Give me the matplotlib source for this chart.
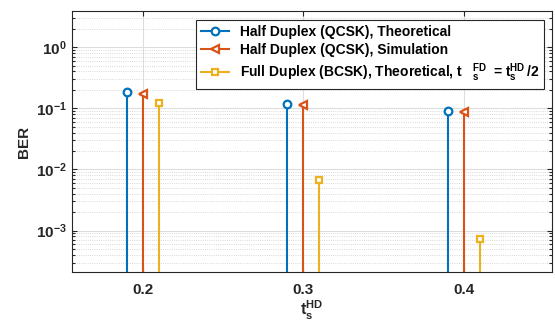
import numpy as np
import matplotlib
matplotlib.use("Agg")
import matplotlib.pyplot as plt
from matplotlib.ticker import LogLocator, NullFormatter, FixedLocator
from matplotlib.legend_handler import HandlerLine2D
from matplotlib.lines import Line2D

plt.rcParams['font.family'] = ['Liberation Sans', 'DejaVu Sans']
plt.rcParams['mathtext.fontset'] = 'custom'
plt.rcParams['mathtext.rm'] = 'Liberation Sans:bold'
plt.rcParams['mathtext.it'] = 'Liberation Sans:bold'
plt.rcParams['mathtext.bf'] = 'Liberation Sans:bold'

# data
t_hd = [0.2, 0.3, 0.4]
ber_hd_theory = [0.188, 0.118, 0.089]
ber_hd_sim = [0.174, 0.115, 0.086]
ber_fd_theory = [0.122, 0.0066, 0.00074]

labels = ["Half Duplex (QCSK), Theoretical",
          "Half Duplex (QCSK), Simulation",
          r"Full Duplex (BCSK), Theoretical, t  $\mathbf{\;{}_s^{FD}\;}$ = t$\mathbf{{}_s^{HD}\,}$/2"]


# MATLAB style legend: marker at the end of the line
class EndMarker(HandlerLine2D):
    def get_xdata(self, legend, xdescent, ydescent, width, height, fontsize):
        xdata = np.array([-xdescent, -xdescent + width])
        return xdata, np.array([-xdescent + width - 2])


fig = plt.figure(figsize=(5.55, 3.22), dpi=100)
ax = fig.add_axes([0.1297, 0.1553, 0.8649, 0.8105])

ylo, yhi = 2.1e-4, 3.9
offsets = [-0.01, 0.0, 0.01]
series = [ber_hd_theory, ber_hd_sim, ber_fd_theory]
colors = ['#0072BD', '#D95319', '#EDB120']
markers = ['o', '<', 's']
sizes = [5.5, 6, 5]

handles = []
for off, vals, c, m, ms, lab in zip(offsets, series, colors, markers, sizes, labels):
    x = np.array(t_hd) + off
    ax.vlines(x, ylo, vals, color=c, lw=1.5, zorder=3)
    ax.plot(x, vals, ls='none', marker=m, ms=ms, mfc='white', mec=c, mew=1.6, zorder=4)
    h, = ax.plot([], [], color=c, lw=1.5, marker=m, ms=ms, mfc='white', mec=c, mew=1.6, label=lab)
    handles.append(h)

ax.set_yscale('log')
ax.set_ylim(ylo, yhi)
ax.set_xlim(0.156, 0.455)
ax.xaxis.set_major_locator(FixedLocator(t_hd))
ax.set_xticklabels(['0.2', '0.3', '0.4'])
ax.yaxis.set_major_locator(FixedLocator([1e-3, 1e-2, 1e-1, 1e0]))
ax.yaxis.set_minor_locator(LogLocator(base=10, subs=np.arange(2, 10), numticks=20))
ax.yaxis.set_minor_formatter(NullFormatter())

ax.grid(True, which='major', color='#dddddd', lw=0.8, zorder=0)
ax.grid(True, which='minor', axis='y', color='#cccccc', lw=0.6, ls=':', zorder=0)
ax.set_axisbelow(True)

ax.tick_params(which='both', direction='in', top=True, right=True, colors='#262626',
               labelsize=11, width=0.8)
ax.tick_params(axis='x', which='major', pad=8)
ax.tick_params(which='minor', length=2)
for lbl in ax.get_xticklabels() + ax.get_yticklabels():
    lbl.set_fontweight('bold')
for s in ax.spines.values():
    s.set_color('#262626')
    s.set_linewidth(0.8)

ax.set_ylabel('BER', fontsize=11, fontweight='bold', color='#262626')
ax.set_xlabel(r'$\mathbf{t_s^{HD}}$', fontsize=11.5, color='#262626', labelpad=1)

leg = ax.legend(handles=handles, loc='upper right', bbox_to_anchor=(1 - 8 / 480, 1 - 9 / 261),
                prop={'weight': 'bold', 'size': 10}, fancybox=False, framealpha=1,
                edgecolor='#262626', borderpad=0.35, labelspacing=0.3,
                handlelength=2.0, handletextpad=0.8, borderaxespad=0,
                handler_map={Line2D: EndMarker()})
leg.get_frame().set_linewidth(0.8)

fig.savefig('out.png', dpi=100)
